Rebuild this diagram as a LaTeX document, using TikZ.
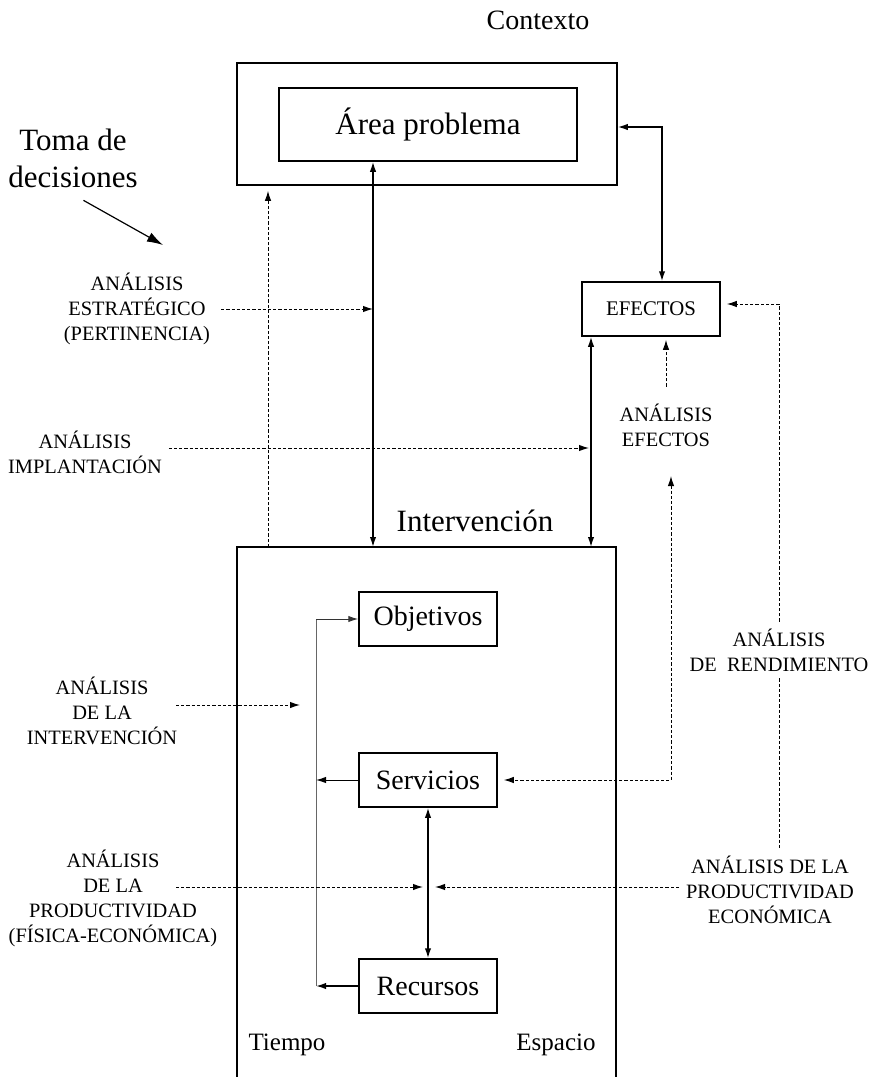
\documentclass[tikz,border=0pt]{standalone}
\usepackage{fontspec}
\setmainfont{Liberation Serif}
\usepackage{tikz}
\usetikzlibrary{calc}
\usetikzlibrary{positioning}
\usetikzlibrary{arrows.meta}

\tikzset{
	box/.style={draw, line width=0.75pt, inner sep=0pt},
	flow/.style={line width=0.75pt},
	dashline/.style={line width=0.5pt, dash pattern=on 1.6pt off 1pt},
	feedback/.style={line width=0.5pt, draw=black!60},
	analisis/.style={align=center, font=\fontsize{10.2}{12.5}\selectfont},
	bigtext/.style={font=\fontsize{15.5}{18.5}\selectfont},
	midtext/.style={font=\fontsize{14}{16}\selectfont},
}

\begin{document}
\begin{tikzpicture}[x=0.5pt, y=-0.5pt, >={Latex[length=5pt,width=3.2pt]}]
				\useasboundingbox (0,0) rectangle (875,1077);
				
				\node[midtext] (contexto) at (538,20) {Contexto};
				\node[box, minimum width=190pt, minimum height=61pt] (ctx) at (427,124) {};
				\node[box, bigtext, minimum width=149pt, minimum height=36.5pt] (area) at (428,124.5) {Área problema};
				\node[box, minimum width=69pt, minimum height=27pt, font=\fontsize{10.4}{12}\selectfont] (efectos) at (651,309) {EFECTOS};
				
				\node[bigtext] (intervencion) at (475,521) {Intervención};
				\draw[line width=0.75pt] (237,1077) -- (237,547) -- (616,547) -- (616,1077);
				\coordinate (intA) at (373,547);
				\coordinate (intB) at (591,547);
				\coordinate (intC) at (268,547);
				
				\node[box, midtext, minimum width=69pt, minimum height=27pt] (objetivos) at (428,619) {Objetivos};
				\node[box, midtext, minimum width=69pt, minimum height=27pt] (servicios) at (428,780) {Servicios};
				\node[box, midtext, minimum width=69pt, minimum height=27pt] (recursos) at (428,986) {Recursos};
				\node[font=\fontsize{12.5}{15}\selectfont] (tiempo) at (287,1045) {Tiempo};
				\node[font=\fontsize{12.5}{15}\selectfont] (espacio) at (556,1045) {Espacio};
				
				\node[bigtext, align=center] (toma) at (73,158) {Toma de\\decisiones};
				\coordinate (tomaTo) at (163,245);
				\draw[line width=0.6pt, -{Latex[length=8pt,width=5pt]}, shorten <=6pt] (toma.south) -- (tomaTo);
				
				\node[analisis] (estrategico) at (137,309) {ANÁLISIS\\ESTRATÉGICO\\(PERTINENCIA)};
				\node[analisis] (implantacion) at (85,452) {ANÁLISIS\\IMPLANTACIÓN};
				\node[analisis] (efectosA) at (666,425) {ANÁLISIS\\EFECTOS};
				\node[analisis] (rendimiento) at (779,650) {ANÁLISIS\\DE~ RENDIMIENTO};
				\node[analisis] (intervencionL) at (102,711) {ANÁLISIS\\DE LA\\INTERVENCIÓN};
				\node[analisis] (productividadL) at (113,898) {ANÁLISIS\\DE LA\\PRODUCTIVIDAD\\(FÍSICA-ECONÓMICA)};
				\node[analisis] (productividadE) at (770,890) {ANÁLISIS DE LA\\PRODUCTIVIDAD\\ECONÓMICA};
				
				% solid connectors
				\draw[flow, <->] (intA) -- (intA |- area.south);
				\draw[flow, <->] (intB) -- (intB |- efectos.south);
				\draw[flow, <->] ([yshift=-1.5pt]ctx.east) -| ([xshift=5.5pt]efectos.north);
				\draw[flow, <->] (servicios) -- (recursos);
				
				% retroalimentacion interna
				\coordinate (fbTop) at (316,619);
				\draw[feedback] (recursos.west -| fbTop) -- (fbTop);
				\draw[line width=0.5pt, draw=black!80, ->] (fbTop) -- (objetivos.west);
				\draw[line width=0.5pt, ->] (servicios.west) -- (servicios.west -| fbTop);
				\draw[flow, ->] (recursos.west) -- (recursos.west -| fbTop);
				
				% analisis (dashed)
				\draw[dashline, ->, shorten >=2.5pt] (intC) -- (intC |- ctx.south);
				\draw[dashline, ->] ([xshift=2pt]estrategico.east) -- (estrategico.east -| intA);
				\draw[dashline, ->, shorten >=1pt] ([yshift=2pt]implantacion.east) -- ([yshift=2pt]implantacion.east -| intB);
				\draw[dashline, ->, shorten <=5pt, shorten >=1.5pt] (efectosA.north) -- (efectosA.north |- efectos.south);
				\coordinate (efUp) at (671,476);
				\draw[dashline, <->, shorten >=3pt] (efUp) |- (servicios.east);
				\draw[dashline, ->, shorten >=3pt] (rendimiento.north) |- ([yshift=2.5pt]efectos.east);
				\draw[dashline] (rendimiento.south) -- (rendimiento.south |- productividadE.north);
				\coordinate (intvFrom) at (176,705);
				\coordinate (intvTo) at (300,705);
				\draw[dashline, ->] (intvFrom) -- (intvTo);
				\coordinate (prodFrom) at (176,887);
				\draw[dashline, ->, shorten >=2.5pt] (prodFrom) -- (prodFrom -| servicios.south);
				\draw[dashline, ->, shorten >=3.5pt] ([yshift=1.5pt]productividadE.west) -- ([yshift=1.5pt]productividadE.west -| servicios.south);
			\end{tikzpicture}
\end{document}
